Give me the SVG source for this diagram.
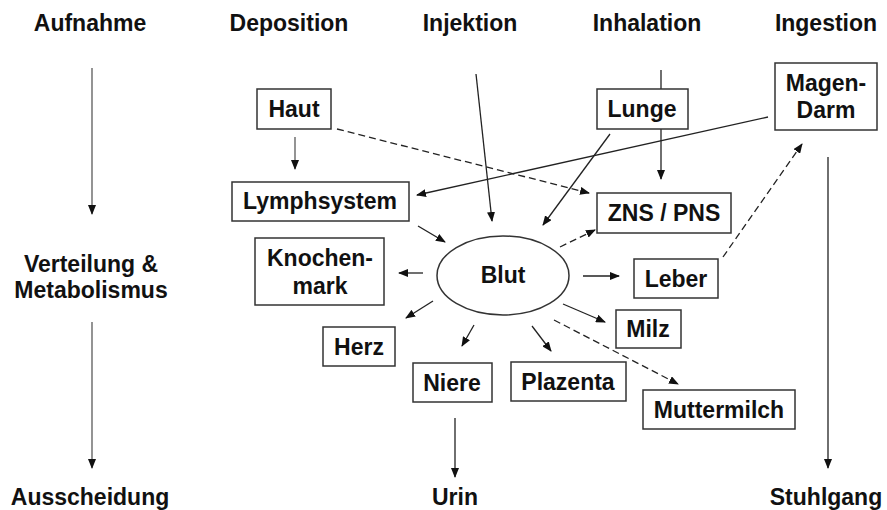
<svg xmlns="http://www.w3.org/2000/svg" width="887" height="510" viewBox="0 0 887 510">
<style>
text{font-family:"Liberation Sans",Arial,sans-serif;font-weight:bold;font-size:23px;fill:#111;text-anchor:middle}
.box{fill:#fff;stroke:#333;stroke-width:1.5}
.ln{fill:none;stroke:#222;stroke-width:1.3;marker-end:url(#ah)}
.dash{stroke-dasharray:7,4}
.gray{stroke:#888;stroke-width:1.8}
.plain{fill:none;stroke:#222;stroke-width:1.3}
</style>
<defs>
<marker id="ah" markerUnits="userSpaceOnUse" markerWidth="10" markerHeight="8" refX="9" refY="4" orient="auto">
<path d="M0,0 L10,4 L0,8 Z" fill="#111"/>
</marker>
</defs>
<rect width="887" height="510" fill="#fff"/>
<g id="headers">
<text x="90" y="31">Aufnahme</text>
<text x="289" y="31">Deposition</text>
<text x="470" y="31">Injektion</text>
<text x="647" y="31">Inhalation</text>
<text x="826" y="31">Ingestion</text>
<text x="91" y="272">Verteilung &amp;</text>
<text x="91" y="298">Metabolismus</text>
<text x="90" y="505">Ausscheidung</text>
<text x="455" y="505">Urin</text>
<text x="826" y="505">Stuhlgang</text>
</g>
<g id="connectors">
<line class="ln gray" x1="92" y1="68" x2="92" y2="214"/>
<line class="ln gray" x1="92" y1="322" x2="92" y2="468"/>
<line class="ln gray" x1="295" y1="137" x2="295" y2="169"/>
<line class="ln dash" x1="337" y1="129" x2="589" y2="193"/>
<line class="ln" x1="476" y1="74" x2="492" y2="221"/>
<line class="plain" x1="661" y1="70" x2="661" y2="89"/>
<line class="ln" x1="661" y1="129" x2="661" y2="179"/>
<line class="ln" x1="610" y1="134" x2="543" y2="225"/>
<line class="ln" x1="768" y1="117" x2="417" y2="195"/>
<line class="ln dash" x1="723" y1="257" x2="802" y2="144"/>
<line class="ln" x1="828" y1="157" x2="828" y2="468"/>
<line class="ln" x1="418" y1="226" x2="445" y2="242"/>
<line class="ln" x1="423" y1="273" x2="399" y2="273"/>
<line class="ln" x1="433" y1="301" x2="406" y2="318"/>
<line class="ln" x1="474" y1="325" x2="462" y2="346"/>
<line class="ln" x1="532" y1="326" x2="551" y2="351"/>
<line class="ln" x1="563" y1="304" x2="605" y2="322"/>
<line class="ln dash" x1="554" y1="320" x2="678" y2="384"/>
<line class="ln" x1="583" y1="276" x2="619" y2="276"/>
<line class="ln dash" x1="560" y1="247" x2="595" y2="230"/>
<line class="ln" x1="455" y1="418" x2="455" y2="477"/>
</g>
<g id="haut"><rect class="box" x="257" y="89" width="74" height="40"/><text x="294" y="117">Haut</text></g>
<g id="lymphsystem"><rect class="box" x="232" y="182" width="177" height="39"/><text x="320" y="209">Lymphsystem</text></g>
<g id="lunge"><rect class="box" x="597" y="89" width="91" height="40"/><text x="642" y="117">Lunge</text></g>
<g id="magen-darm"><rect class="box" x="775" y="63" width="102" height="67"/><text x="826" y="91">Magen-</text><text x="826" y="118">Darm</text></g>
<g id="zns-pns"><rect class="box" x="597" y="193" width="134" height="40"/><text x="664" y="221">ZNS / PNS</text></g>
<g id="knochenmark"><rect class="box" x="255" y="238" width="129" height="67"/><text x="320" y="266">Knochen-</text><text x="320" y="294">mark</text></g>
<g id="blut"><ellipse cx="503" cy="275.5" rx="66" ry="39.5" fill="#fff" stroke="#333" stroke-width="1.5"/><text x="503" y="283">Blut</text></g>
<g id="leber"><rect class="box" x="634" y="259" width="84" height="39"/><text x="676" y="287">Leber</text></g>
<g id="milz"><rect class="box" x="616" y="310" width="65" height="38"/><text x="648" y="337">Milz</text></g>
<g id="herz"><rect class="box" x="323" y="327" width="72" height="39"/><text x="359" y="355">Herz</text></g>
<g id="niere"><rect class="box" x="413" y="363" width="79" height="39"/><text x="452" y="391">Niere</text></g>
<g id="plazenta"><rect class="box" x="511" y="362" width="115" height="39"/><text x="568" y="390">Plazenta</text></g>
<g id="muttermilch"><rect class="box" x="643" y="390" width="152" height="39"/><text x="719" y="418">Muttermilch</text></g>
</svg>
